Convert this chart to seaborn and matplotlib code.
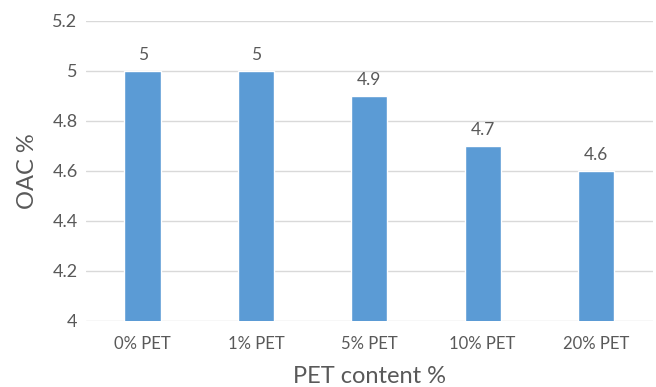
import matplotlib
matplotlib.use("Agg")
import matplotlib.pyplot as plt
import seaborn as sns
import pandas as pd

categories = ["0% PET", "1% PET", "5% PET", "10% PET", "20% PET"]
oac_values = [5.0, 5.0, 4.9, 4.7, 4.6]
value_labels = ["5", "5", "4.9", "4.7", "4.6"]
y_ticks = [4.0, 4.2, 4.4, 4.6, 4.8, 5.0, 5.2]
y_tick_labels = ["4", "4.2", "4.4", "4.6", "4.8", "5", "5.2"]

sns.set_theme(style="white")
plt.rcParams["font.family"] = ["Lato", "DejaVu Sans"]

text_color = "#595959"
bar_color = "#5B9BD5"

df = pd.DataFrame({"category": categories, "oac": oac_values})

fig = plt.figure(figsize=(6.56, 3.87), dpi=100)
ax = fig.add_axes([0.131, 0.171, 0.864, 0.775])

sns.barplot(data=df, x="category", y="oac", color=bar_color, width=0.32,
            saturation=1, ax=ax, zorder=3)

ax.set_ylim(4.0, 5.2)
ax.set_yticks(y_ticks)
ax.set_yticklabels(y_tick_labels)
ax.grid(axis="y", color="#D9D9D9", linewidth=1.0, zorder=0)
ax.set_axisbelow(True)
for side in ["top", "right", "left", "bottom"]:
    ax.spines[side].set_visible(False)

ax.tick_params(axis="y", labelsize=13, colors=text_color, length=0, pad=6)
ax.tick_params(axis="x", labelsize=12, colors=text_color, length=0, pad=11)

ax.set_xlabel("PET content %", fontsize=17, color=text_color, labelpad=10)
ax.set_ylabel("OAC %", fontsize=17, color=text_color, labelpad=10)

for patch, label in zip(ax.patches, value_labels):
    ax.annotate(label, (patch.get_x() + patch.get_width() / 2, patch.get_height()),
                xytext=(0, 6), textcoords="offset points", ha="center", va="bottom",
                fontsize=12.5, color=text_color)

fig.savefig("out.png", dpi=100)
